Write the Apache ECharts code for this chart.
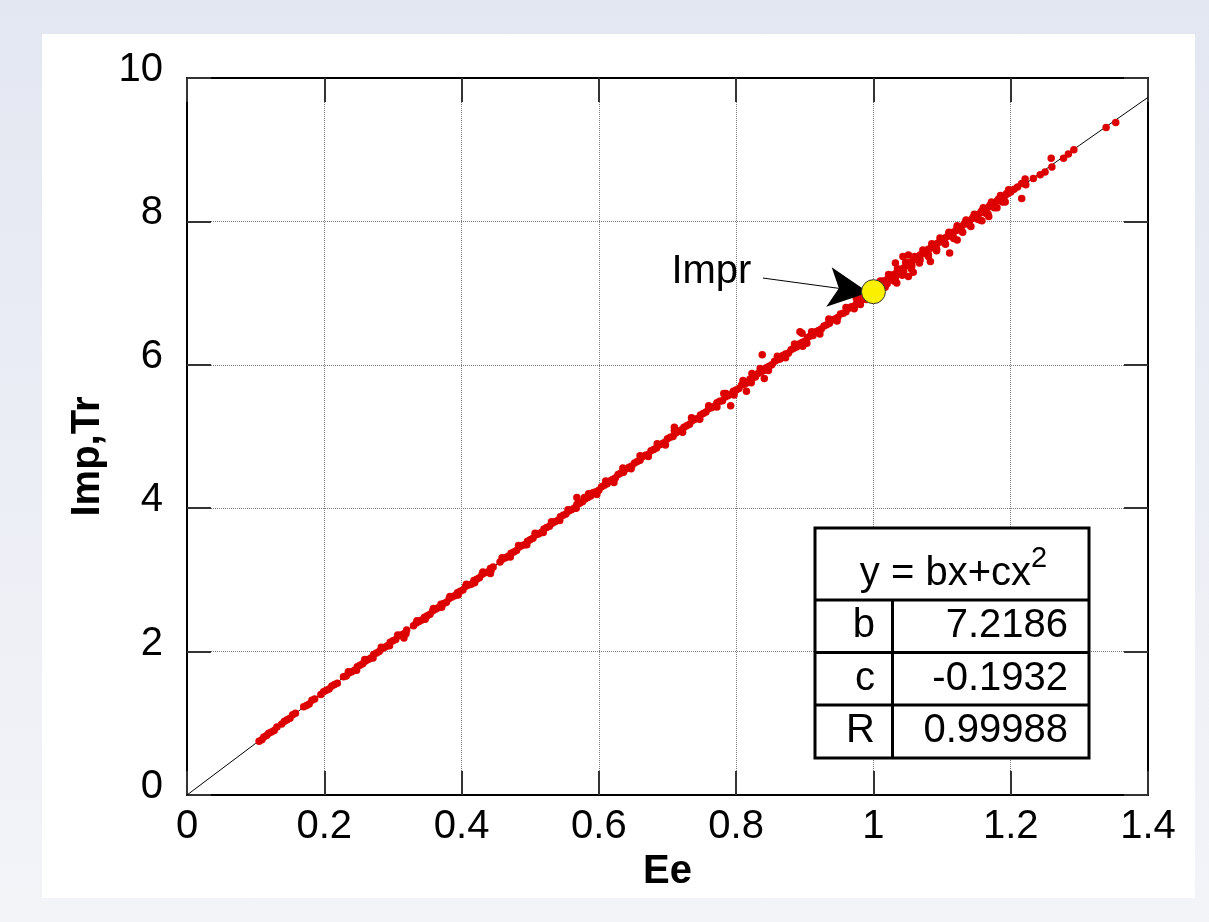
<!DOCTYPE html>
<html>
<head>
<meta charset="utf-8">
<title>Imp,Tr - Ee</title>
<script src="https://cdn.jsdelivr.net/npm/echarts@6/dist/echarts.min.js"></script>
<style>
html, body { margin:0; padding:0; width:1209px; height:922px; overflow:hidden;
  background: linear-gradient(#e3e7f1, #f3f4f8); }
#panel { position:absolute; left:42px; top:34px; width:1153px; height:864px; background:#fff; }
#main { position:absolute; left:0; top:0; width:1209px; height:922px; }
</style>
</head>
<body>
<div id="panel"></div>
<div id="main"></div>
<script>
// fitted curve y = bx + cx^2
var fitCurve = [[0,0],[0.1,0.72],[0.2,1.44],[0.3,2.15],[0.4,2.86],[0.5,3.56],[0.6,4.26],[0.7,4.96],
  [0.8,5.65],[0.9,6.34],[1.0,7.03],[1.1,7.71],[1.2,8.38],[1.3,9.06],[1.4,9.73]]

// measured points (Ee, Imp)
var measuredLow = [[0.105,0.75],[0.109,0.77],[0.112,0.81],[0.116,0.83],[0.119,0.86],[0.123,0.88],[0.127,0.90],[0.131,0.95],
  [0.138,0.99],[0.142,1.03],[0.146,1.05],[0.150,1.07],[0.154,1.12],[0.158,1.14],
  [0.170,1.23],[0.174,1.25],[0.178,1.27],[0.182,1.32],[0.186,1.34],
  [0.195,1.40],[0.199,1.44],[0.203,1.46],[0.207,1.48],[0.211,1.52],[0.215,1.54],[0.219,1.56],
  [0.228,1.65],[0.232,1.66],[0.236,1.70],[0.240,1.72],[0.244,1.74],[0.248,1.79],[0.252,1.81],[0.256,1.83],
  [0.260,1.87],[0.264,1.89],[0.268,1.91],[0.272,1.96],[0.276,1.98],[0.280,2.00],[0.284,2.04],[0.288,2.06],
  [0.292,2.08],[0.296,2.13],[0.300,2.15],[0.304,2.17],[0.308,2.22],[0.312,2.23],[0.316,2.25],[0.316,2.19],[0.320,2.30],
  [0.330,2.36],[0.334,2.40],[0.338,2.42],[0.342,2.44],[0.346,2.48],[0.350,2.50],[0.354,2.52],[0.358,2.57],
  [0.362,2.59],[0.366,2.61],[0.370,2.66],[0.374,2.67],[0.378,2.69],[0.382,2.74],[0.386,2.76],[0.390,2.78],
  [0.394,2.82],[0.398,2.84],[0.402,2.86],[0.406,2.91],[0.410,2.93],[0.414,2.94],[0.418,2.99],[0.422,3.01],
  [0.426,3.03],[0.430,3.08],[0.434,3.10],[0.438,3.11],[0.442,3.16],[0.442,3.09],[0.446,3.18],
  [0.456,3.25],[0.460,3.29],[0.464,3.31],[0.468,3.33],[0.472,3.37],[0.476,3.39],[0.480,3.41],[0.484,3.46],
  [0.488,3.48],[0.492,3.49],[0.496,3.54],[0.500,3.56],[0.504,3.58],[0.508,3.63],[0.512,3.64],[0.516,3.66],
  [0.520,3.71],[0.524,3.73],[0.528,3.75],[0.532,3.79],[0.536,3.81],[0.540,3.83],[0.544,3.88],[0.548,3.90],
  [0.552,3.92],[0.556,3.96],[0.560,3.98],[0.564,4.00],[0.568,4.05],[0.568,4.15],[0.572,4.07],[0.576,4.09],
  [0.235,1.72],[0.247,1.74],[0.259,1.89],[0.271,1.91],[0.283,2.06],[0.295,2.08],[0.307,2.23],[0.319,2.25],
  [0.335,2.43],[0.347,2.45],[0.359,2.60],[0.371,2.62],[0.383,2.77],[0.395,2.79],[0.407,2.94],[0.419,2.96],
  [0.431,3.11],[0.443,3.13],[0.459,3.31],[0.471,3.32],[0.483,3.48],[0.495,3.49],[0.507,3.65],[0.519,3.66],
  [0.531,3.81],[0.543,3.83],[0.555,3.98],[0.567,4.00],[0.579,4.15]]

var measuredMid = [[0.580,4.13],[0.584,4.15],[0.588,4.17],[0.592,4.22],[0.596,4.23],[0.600,4.25],[0.604,4.30],
  [0.608,4.32],[0.612,4.34],[0.616,4.38],[0.620,4.40],[0.624,4.42],[0.628,4.47],[0.632,4.49],[0.636,4.50],
  [0.640,4.55],[0.644,4.57],[0.648,4.59],[0.652,4.63],[0.656,4.65],[0.660,4.67],[0.664,4.72],[0.668,4.74],
  [0.672,4.75],[0.676,4.80],[0.680,4.82],[0.684,4.84],[0.688,4.88],[0.692,4.90],[0.696,4.92],[0.700,4.97],
  [0.704,4.99],[0.708,5.00],[0.712,5.05],[0.716,5.07],[0.720,5.09],[0.724,5.13],[0.728,5.15],[0.732,5.17],
  [0.736,5.22],[0.740,5.24],[0.744,5.25],[0.748,5.30],[0.752,5.32],[0.756,5.34],[0.760,5.39],[0.764,5.40],
  [0.768,5.42],[0.772,5.47],[0.776,5.49],[0.780,5.50],[0.784,5.55],[0.788,5.57],[0.792,5.59],[0.796,5.63],
  [0.800,5.65],[0.804,5.67],[0.808,5.72],[0.812,5.73],[0.816,5.75],[0.820,5.80],[0.824,5.82],[0.828,5.83],
  [0.832,5.88],[0.836,5.90],[0.840,5.92],[0.844,5.96],[0.848,5.98],[0.852,6.00],[0.856,6.05],[0.860,6.07],
  [0.864,6.08],[0.868,6.13],[0.872,6.15],[0.876,6.16],[0.880,6.21],[0.884,6.23],[0.888,6.25],[0.892,6.29],
  [0.896,6.31],[0.900,6.33],[0.904,6.38],[0.908,6.40],[0.912,6.41],[0.916,6.46],[0.920,6.48],[0.924,6.50],
  [0.928,6.54],[0.932,6.56],[0.936,6.58],[0.940,6.63],[0.944,6.64],[0.948,6.66],[0.952,6.71],[0.956,6.72],
  [0.960,6.74],[0.964,6.79],[0.968,6.81],[0.972,6.82],[0.976,6.87],[0.980,6.89],[0.984,6.91],[0.988,6.95],
  [0.992,6.97],[0.996,6.99],
  [0.585,4.20],[0.597,4.19],[0.610,4.38],[0.622,4.36],[0.635,4.56],[0.647,4.55],[0.660,4.73],[0.672,4.72],
  [0.685,4.90],[0.697,4.88],[0.710,5.08],[0.722,5.06],[0.735,5.26],[0.747,5.24],[0.760,5.43],[0.772,5.41],
  [0.785,5.60],[0.797,5.58],[0.810,5.78],[0.822,5.75],[0.835,5.95],[0.847,5.92],[0.860,6.12],[0.872,6.10],
  [0.885,6.29],[0.897,6.26],[0.910,6.46],[0.922,6.43],[0.935,6.64],[0.947,6.61],[0.960,6.80],[0.972,6.78],
  [0.985,6.97],[0.990,6.91],
  [0.975,6.93],[0.981,6.84],[0.987,6.99],[0.993,6.93],[0.998,7.05],
  [0.792,5.43],[0.815,5.63],[0.838,6.14],[0.841,5.81],[0.893,6.46],[0.896,6.44],[0.903,6.30],[0.823,5.88],
  [0.782,5.60],[0.710,5.13]]

var measuredHigh = [[1.004,7.06],[1.008,7.10],[1.012,7.12],[1.016,7.16],[1.020,7.19],[1.024,7.21],[1.028,7.25],
  [1.032,7.27],[1.036,7.30],[1.040,7.33],[1.044,7.35],[1.048,7.39],[1.052,7.41],[1.056,7.44],[1.060,7.47],
  [1.064,7.49],[1.068,7.53],[1.072,7.55],[1.076,7.58],[1.080,7.61],[1.084,7.63],[1.088,7.66],[1.092,7.69],
  [1.096,7.71],[1.100,7.74],[1.104,7.77],[1.108,7.79],[1.112,7.82],[1.116,7.85],[1.120,7.87],[1.124,7.91],
  [1.128,7.93],[1.132,7.96],[1.136,7.99],[1.140,8.01],[1.144,8.04],[1.148,8.07],[1.152,8.09],[1.156,8.12],
  [1.160,8.15],[1.164,8.17],[1.168,8.20],[1.172,8.23],[1.176,8.25],[1.180,8.28],[1.184,8.31],[1.188,8.33],
  [1.192,8.36],[1.196,8.39],[1.200,8.41],[1.205,8.45],[1.210,8.48],[1.216,8.53],
  [1.010,7.17],[1.022,7.26],[1.035,7.34],[1.047,7.43],[1.060,7.51],[1.072,7.60],[1.085,7.69],[1.097,7.77],
  [1.110,7.85],[1.122,7.94],[1.135,8.02],[1.147,8.10],[1.160,8.19],[1.172,8.27],[1.185,8.36],[1.197,8.44],
  [1.005,7.00],[1.017,7.08],[1.030,7.17],[1.042,7.25],[1.055,7.34],[1.067,7.42],[1.080,7.51],[1.092,7.59],
  [1.105,7.68],[1.117,7.76],[1.130,7.85],[1.142,7.93],[1.155,8.02],[1.167,8.10],[1.180,8.19],[1.192,8.27],
  [1.002,7.09],[1.014,7.17],[1.026,7.25],[1.038,7.33],[1.050,7.42],[1.062,7.50],[1.074,7.58],[1.086,7.66],
  [1.098,7.74],[1.110,7.83],[1.122,7.91],[1.134,7.99],[1.146,8.07],[1.158,8.15],[1.170,8.23],[1.182,8.31],[1.194,8.39],
  [1.008,7.05],[1.020,7.13],[1.032,7.21],[1.044,7.30],[1.056,7.38],[1.068,7.46],[1.080,7.54],[1.092,7.62],
  [1.104,7.70],[1.116,7.79],[1.128,7.87],[1.140,7.95],[1.152,8.03],[1.164,8.11],[1.176,8.19],[1.188,8.27],
  [1.032,7.42],[1.043,7.51],[1.051,7.53],[1.034,7.14],[1.051,7.23],[1.058,7.29],[1.083,7.44],[1.111,7.56],
  [1.122,7.74],[1.158,8.01],[1.168,8.07],[1.221,8.59],[1.216,8.32],[1.222,8.51],[1.233,8.60],[1.243,8.65],
  [1.250,8.69],[1.259,8.88],[1.260,8.76],[1.277,8.88],[1.284,8.94],[1.292,9.00],[1.339,9.31],[1.353,9.38]]

var imprPoint = [1.0, 7.02]
var imprLabelAt = [0.764, 7.29]
var arrowFrom = [0.839, 7.21]
var arrowTo = [0.993, 7.01]

var fitTitle = 'y = bx+cx'
var fitRows = [['b', '7.2186'], ['c', '-0.1932'], ['R', '0.99988']]

var FONT = '"Liberation Sans", Arial, sans-serif'

var chart = echarts.init(document.getElementById('main'), null, {renderer: 'canvas'})

var tableGraphic = [
  {type: 'rect', shape: {x: 815, y: 528, width: 274, height: 230},
   style: {fill: '#fff', stroke: '#000', lineWidth: 3}, z: 100},
  {type: 'line', shape: {x1: 815, y1: 600, x2: 1089, y2: 600}, style: {stroke: '#000', lineWidth: 3}, z: 101},
  {type: 'line', shape: {x1: 815, y1: 652.5, x2: 1089, y2: 652.5}, style: {stroke: '#000', lineWidth: 3}, z: 101},
  {type: 'line', shape: {x1: 815, y1: 705, x2: 1089, y2: 705}, style: {stroke: '#000', lineWidth: 3}, z: 101},
  {type: 'line', shape: {x1: 892.5, y1: 600, x2: 892.5, y2: 758}, style: {stroke: '#000', lineWidth: 3}, z: 101},
  {type: 'text', x: 1031, y: 574, z: 102,
   style: {text: fitTitle, font: '40px ' + FONT, fill: '#000', textAlign: 'right', textVerticalAlign: 'middle'}},
  {type: 'text', x: 1031, y: 559, z: 102,
   style: {text: '2', font: '29px ' + FONT, fill: '#000', textAlign: 'left', textVerticalAlign: 'middle'}}
]
fitRows.forEach(function(row, i) {
  var cy = 626 + i * 52.5
  tableGraphic.push({type: 'text', x: 875, y: cy, z: 102,
    style: {text: row[0], font: '40px ' + FONT, fill: '#000', textAlign: 'right', textVerticalAlign: 'middle'}})
  tableGraphic.push({type: 'text', x: 1068, y: cy, z: 102,
    style: {text: row[1], font: '40px ' + FONT, fill: '#000', textAlign: 'right', textVerticalAlign: 'middle'}})
})

var tickStyle = {show: true, inside: true, length: 24, lineStyle: {color: '#333', width: 2}}
var frameLine = {show: true, onZero: false, lineStyle: {color: '#000', width: 2}}
var gridDots = {show: true, lineStyle: {color: '#7a7a7a', width: 1, type: 'dotted'}}

var option = {
  animation: false,
  textStyle: {fontFamily: FONT},
  grid: {left: 187, right: 61, top: 78, bottom: 127, containLabel: false},
  xAxis: [
    {type: 'value', position: 'bottom', min: 0, max: 1.4, interval: 0.2,
     axisLine: frameLine, axisTick: tickStyle, splitLine: gridDots,
     axisLabel: {fontSize: 40, color: '#000', margin: 12, fontFamily: FONT},
     name: 'Ee', nameLocation: 'middle', nameGap: 52,
     nameTextStyle: {fontSize: 40, fontWeight: 'bold', color: '#000', fontFamily: FONT}},
    {type: 'value', position: 'top', min: 0, max: 1.4, interval: 0.2,
     axisLine: frameLine, axisTick: tickStyle, splitLine: {show: false}, axisLabel: {show: false}}
  ],
  yAxis: [
    {type: 'value', position: 'left', min: 0, max: 10, interval: 2,
     axisLine: frameLine, axisTick: tickStyle, splitLine: gridDots,
     axisLabel: {fontSize: 40, color: '#000', margin: 24, verticalAlign: 'bottom', lineHeight: 16, fontFamily: FONT},
     name: 'Imp,Tr', nameLocation: 'middle', nameGap: 78,
     nameTextStyle: {fontSize: 40, fontWeight: 'bold', color: '#000', fontFamily: FONT, padding: [0, 40, 0, 0]}},
    {type: 'value', position: 'right', min: 0, max: 10, interval: 2,
     axisLine: frameLine, axisTick: tickStyle, splitLine: {show: false}, axisLabel: {show: false}}
  ],
  series: [
    {type: 'line', data: fitCurve, showSymbol: false, silent: true, z: 2,
     lineStyle: {color: '#000', width: 1}},
    {type: 'scatter', data: measuredLow.concat(measuredMid, measuredHigh), symbolSize: 7.5, silent: true, z: 3,
     itemStyle: {color: '#dd0000', opacity: 1}},
    {type: 'scatter', data: [imprPoint], symbolSize: 24, silent: true, z: 5,
     itemStyle: {color: '#fbf000', borderColor: '#333', borderWidth: 1, opacity: 1}},
    {type: 'scatter', data: [imprLabelAt], symbolSize: 0, silent: true, z: 6,
     itemStyle: {opacity: 1},
     label: {show: true, position: 'inside', formatter: 'Impr', fontSize: 40, color: '#000', fontFamily: FONT},
     markLine: {silent: true, symbol: ['none', 'arrow'], symbolSize: [30, 40], animation: false,
       lineStyle: {color: '#000', width: 1, type: 'solid', opacity: 1},
       itemStyle: {color: '#000', opacity: 1}, label: {show: false},
       emphasis: {disabled: true},
       data: [[{coord: arrowFrom}, {coord: arrowTo}]]}}
  ],
  graphic: tableGraphic
}

chart.setOption(option)
</script>
</body>
</html>
